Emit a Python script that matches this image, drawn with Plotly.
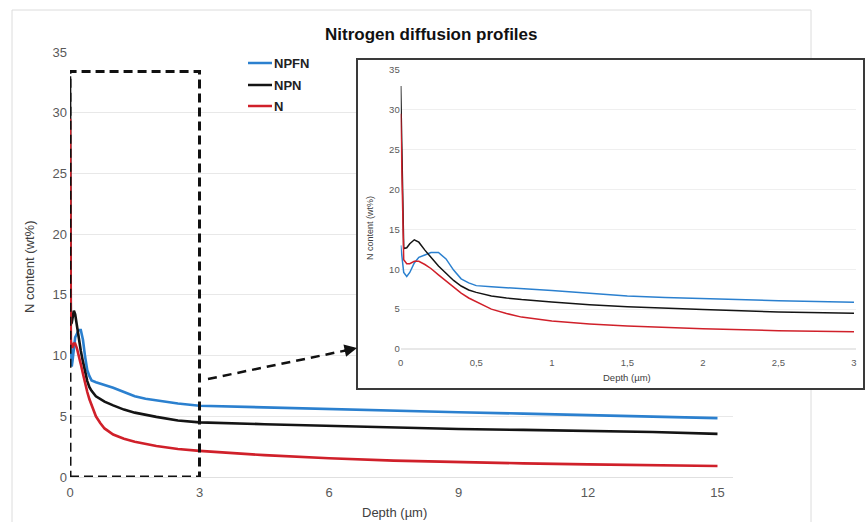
import plotly.graph_objects as go

# ---------------- data ----------------
depth_um = [0, 0.02, 0.04, 0.06, 0.09, 0.12, 0.16, 0.2, 0.25, 0.3, 0.35, 0.4, 0.45, 0.5,
            0.6, 0.7, 0.8, 1.0, 1.25, 1.5, 1.75, 2.0, 2.5, 3.0, 4.5, 6, 7.5, 9, 10.5, 12, 13.5, 15]
npfn = [13.0, 9.6, 9.1, 9.6, 10.8, 11.5, 11.8, 12.1, 12.1, 11.3, 9.9, 8.8, 8.3, 7.95,
        7.8, 7.7, 7.6, 7.35, 7.0, 6.65, 6.45, 6.3, 6.05, 5.87, 5.72, 5.6, 5.45, 5.33, 5.22, 5.1, 4.98, 4.85]
npn = [33.0, 12.6, 12.7, 13.2, 13.7, 13.4, 12.4, 11.5, 10.4, 9.5, 8.6, 7.9, 7.4, 7.1,
       6.65, 6.4, 6.2, 5.9, 5.55, 5.3, 5.1, 4.95, 4.65, 4.5, 4.35, 4.2, 4.05, 3.95, 3.88, 3.8, 3.7, 3.55]
n_only = [29.5, 11.2, 10.7, 10.7, 11.0, 11.0, 10.6, 10.1, 9.3, 8.5, 7.7, 7.0, 6.4, 5.9,
          5.0, 4.45, 4.0, 3.5, 3.15, 2.9, 2.7, 2.55, 2.3, 2.15, 1.8, 1.54, 1.35, 1.21, 1.12, 1.04, 0.97, 0.9]
series_names = ["NPFN", "NPN", "N"]
main_xticks = [0, 3, 6, 9, 12, 15]
main_yticks = [0, 5, 10, 15, 20, 25, 30, 35]
inset_xticks = [0, 0.5, 1, 1.5, 2, 2.5, 3]
inset_xticktext = ["0", "0,5", "1", "1,5", "2", "2,5", "3"]
zoom_window = [0, 3, 0, 33.4]  # depth from, depth to, content from, content to

# ---------------- styling ----------------
W, H = 865, 522
FONT = "Liberation Sans, Arial, sans-serif"
colors = ["#2b80cf", "#141414", "#d0202a"]
values = [npfn, npn, n_only]


def px(xp):
    return xp / W


def py(yp):
    return (H - yp) / H


fig = go.Figure()

# main traces
for name, vals, c in zip(series_names, values, colors):
    fig.add_trace(go.Scatter(x=depth_um, y=vals, mode="lines", name=name,
                             line=dict(color=c, width=2.6), showlegend=False,
                             xaxis="x", yaxis="y"))

# inset traces (only depth <= 3)
inset_idx = [i for i, d in enumerate(depth_um) if d <= 3]
for name, vals, c in zip(series_names, values, colors):
    fig.add_trace(go.Scatter(x=[depth_um[i] for i in inset_idx], y=[vals[i] for i in inset_idx],
                             mode="lines", name=name, line=dict(color=c, width=1.5),
                             showlegend=False, xaxis="x3", yaxis="y3"))

# empty trace to create the inset frame subplot
fig.add_trace(go.Scatter(x=[], y=[], xaxis="x2", yaxis="y2", showlegend=False))

tickfont_main = dict(family=FONT, size=13, color="#595959")
tickfont_inset = dict(family=FONT, size=9.5, color="#595959")

layout = dict(
    width=W, height=H, margin=dict(l=0, r=0, t=0, b=0, autoexpand=False),
    paper_bgcolor="white", plot_bgcolor="white",
    font=dict(family=FONT),
    xaxis=dict(domain=[px(70), px(732.6)], range=[0, 15.35], tickvals=main_xticks,
               showgrid=False, zeroline=False, showline=False, ticks="",
               ticklabelstandoff=6,
               tickfont=tickfont_main, anchor="y", automargin=False),
    yaxis=dict(domain=[py(477), py(52)], range=[0, 35], tickvals=main_yticks,
               showgrid=True, gridcolor="#e8e8e8", gridwidth=1, zeroline=True,
               zerolinecolor="#e0e0e0", zerolinewidth=1, showline=False, ticks="",
               ticklabelstandoff=2,
               tickfont=tickfont_main, anchor="x", automargin=False),
    xaxis2=dict(domain=[px(358), px(863)], range=[0, 1], showgrid=False, zeroline=False,
                showticklabels=False, showline=True, mirror=True, linecolor="#3a3a3a",
                linewidth=2, anchor="y2", automargin=False),
    yaxis2=dict(domain=[py(388), py(60)], range=[0, 1], showgrid=False, zeroline=False,
                showticklabels=False, showline=True, mirror=True, linecolor="#3a3a3a",
                linewidth=2, anchor="x2", automargin=False),
    xaxis3=dict(domain=[px(400.7), px(855.5)], range=[0, 3.01], tickvals=inset_xticks,
                ticktext=inset_xticktext, showgrid=False, zeroline=False, showline=False,
                ticks="", ticklabelstandoff=6,
                tickfont=tickfont_inset, anchor="y3", automargin=False),
    yaxis3=dict(domain=[py(349), py(70)], range=[0, 35], tickvals=main_yticks,
                showgrid=True, gridcolor="#efefef", gridwidth=1, zeroline=True,
                zerolinecolor="#e8e8e8", showline=False, ticks="",
                tickfont=tickfont_inset, anchor="x3", automargin=False),
)
fig.update_layout(**layout)

shapes = []
# outer chart frame
shapes.append(dict(type="rect", xref="paper", yref="paper", x0=px(12), x1=px(811),
                   y0=py(530), y1=py(10), line=dict(color="#dcdcdc", width=1), layer="below"))
# dashed zoom window
shapes.append(dict(type="rect", xref="x", yref="y", x0=zoom_window[0], x1=zoom_window[1],
                   y0=zoom_window[2], y1=zoom_window[3],
                   line=dict(color="#111111", width=3, dash="9px,5px"), layer="above"))
# dashed arrow shaft
shapes.append(dict(type="line", xref="paper", yref="paper", x0=px(208), y0=py(379),
                   x1=px(348), y1=py(350), line=dict(color="#111111", width=2.5, dash="9px,6px"),
                   layer="above"))
# legend lines
for c, yl in zip(colors, [63, 85, 106]):
    shapes.append(dict(type="line", xref="paper", yref="paper", x0=px(248), x1=px(272),
                       y0=py(yl), y1=py(yl), line=dict(color=c, width=2.5)))
fig.update_layout(shapes=shapes)

annotations = []
annotations.append(dict(text="<b>Nitrogen diffusion profiles</b>", x=px(431), y=py(34),
                        xref="paper", yref="paper", showarrow=False, xanchor="center",
                        yanchor="middle", font=dict(family=FONT, size=17, color="#111111")))
for name, yl in zip(series_names, [63, 85, 106]):
    annotations.append(dict(text="<b>" + name + "</b>", x=px(272), y=py(yl), xref="paper",
                            yref="paper", showarrow=False, xanchor="left", yanchor="middle",
                            font=dict(family=FONT, size=13, color="#222222")))
annotations.append(dict(text="Depth (µm)", x=px(394), y=py(512), xref="paper", yref="paper",
                        showarrow=False, xanchor="center", yanchor="middle",
                        font=dict(family=FONT, size=13, color="#404040")))
annotations.append(dict(text="N content (wt%)", x=px(29), y=py(267), xref="paper", yref="paper",
                        showarrow=False, textangle=-90, xanchor="center", yanchor="middle",
                        font=dict(family=FONT, size=13, color="#404040")))
annotations.append(dict(text="Depth (µm)", x=px(627), y=py(377), xref="paper", yref="paper",
                        showarrow=False, xanchor="center", yanchor="middle",
                        font=dict(family=FONT, size=9.5, color="#404040")))
annotations.append(dict(text="N content (wt%)", x=px(370), y=py(228), xref="paper", yref="paper",
                        showarrow=False, textangle=-90, xanchor="center", yanchor="middle",
                        font=dict(family=FONT, size=9, color="#404040")))
# arrow head
annotations.append(dict(text="", x=px(357), y=py(348), xref="paper", yref="paper",
                        showarrow=True, arrowhead=2, arrowsize=1, arrowwidth=2.5,
                        arrowcolor="#111111", ax=-14, ay=3))
fig.update_layout(annotations=annotations)

fig.write_html("out.html", config={"displayModeBar": False},
               post_script="document.body.style.margin='0';document.body.style.padding='0';")
